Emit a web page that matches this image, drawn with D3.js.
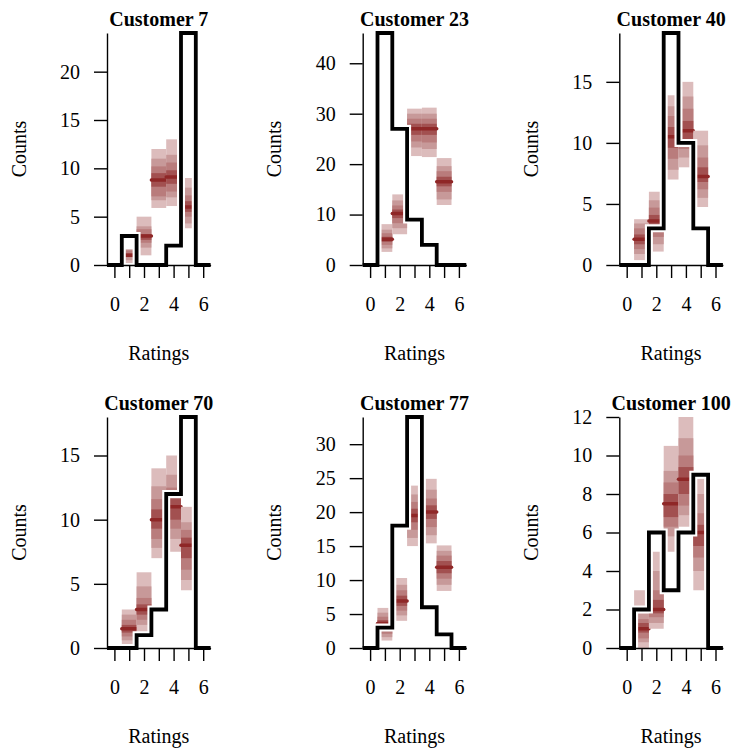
<!DOCTYPE html>
<html>
<head>
<meta charset="utf-8">
<script src="https://cdn.jsdelivr.net/npm/d3@7"></script>
<style>
  body { margin: 0; background: #fff; }
  svg text { font-family: "Liberation Serif", Times, "Nimbus Roman", "DejaVu Serif", serif; }
</style>
</head>
<body>
<div id="canvas"></div>
<script>
// ratings on the x axis, observed counts padded with zeros at 0 and 6
var ratings = [0, 1, 2, 3, 4, 5, 6]
var xTicks = [0, 1, 2, 3, 4, 5, 6]
var xLabels = ['0', '', '2', '', '4', '', '6']
var predRatings = [1, 2, 3, 4, 5]
var customers = ['Customer 7', 'Customer 23', 'Customer 40', 'Customer 70', 'Customer 77', 'Customer 100']

var obs7 = [0, 3, 0, 0, 2, 24, 0]
var obs23 = [0, 46, 27, 9, 4, 0, 0]
var obs40 = [0, 0, 3, 19, 10, 3, 0]
var obs70 = [0, 0, 1, 3, 12, 18, 0]
var obs77 = [0, 3, 18, 34, 6, 2, 0]
var obs100 = [0, 2, 6, 3, 6, 9, 0]

// predictive quantiles 10%..90% for ratings 1..5
var q7 = [
  [0.2, 0.5, 0.8, 1, 1, 1.2, 1.5, 1.6, 1.6],
  [1, 1.8, 2.3, 2.6, 3, 3.2, 3.7, 4, 5],
  [5.9, 6.7, 7.1, 8.1, 8.8, 9.5, 10.2, 11, 12],
  [6.1, 7, 7.6, 8.4, 9.1, 9.8, 10.6, 11.4, 13],
  [3.8, 4.3, 5, 5.5, 6, 6.6, 7.2, 8, 9]
]
var q23 = [
  [2.6, 3.3, 4, 4.6, 5.1, 5.6, 6.3, 7, 8.1],
  [6.1, 7.3, 8.3, 9.3, 10.2, 11, 11.8, 12.8, 14],
  [21.6, 23.3, 24.5, 25.8, 27, 28, 29, 30, 31],
  [21.4, 23, 24.3, 25.8, 27, 28, 29, 30, 31.2],
  [11.9, 13, 14.5, 15.6, 16.5, 17.5, 18.6, 19.6, 21.2]
]
var q40 = [
  [0.4, 0.9, 1.3, 1.7, 2.1, 2.5, 3, 3.4, 3.75],
  [1.1, 1.7, 2.3, 3, 3.6, 4.1, 4.7, 5.3, 6],
  [7, 7.8, 8.7, 9.6, 10.5, 11.3, 12.2, 13, 13.9],
  [8, 8.8, 9.5, 10.2, 11, 11.8, 12.8, 13.8, 15],
  [4.75, 5.5, 6.2, 6.8, 7.25, 8, 8.8, 9.8, 11]
]
var q70 = [
  [0.3, 0.6, 0.9, 1.2, 1.5, 1.8, 2.2, 2.6, 3],
  [1.25, 1.8, 2.2, 2.6, 3, 3.4, 3.9, 4.8, 5.9],
  [7, 7.8, 8.5, 9.3, 10, 10.8, 11.6, 12.6, 14],
  [7.5, 8.5, 9.3, 10, 11, 11.6, 12.5, 13.5, 15],
  [4.5, 5.3, 6.1, 7, 8, 8.6, 9.2, 9.8, 11]
]
var q77 = [
  [1.1, 1.6, 2.1, 2.8, 3.6, 4.1, 4.6, 5.2, 5.9],
  [4, 4.8, 5.5, 6.2, 6.9, 7.7, 8.5, 9.3, 10.3],
  [15, 16.2, 17.4, 18.5, 19.5, 20.5, 21.5, 22.6, 23.9],
  [15.4, 16.6, 17.8, 19, 20, 21, 22, 23.3, 24.9],
  [8.4, 9.3, 10.2, 11, 11.9, 12.8, 13.6, 14.3, 15.1]
]
var q100 = [
  [0, 0.3, 0.5, 0.8, 1, 1.3, 1.5, 1.8, 3],
  [1, 1.3, 1.6, 1.8, 2, 2.5, 3, 4, 5],
  [5, 5.8, 6.3, 6.8, 7.5, 8, 8.6, 9.2, 10.5],
  [6.3, 6.9, 7.4, 8, 8.76, 9.4, 10, 10.9, 12],
  [3, 4, 4.7, 5.3, 6, 6.4, 7, 8, 8.8]
]

var observed = [obs7, obs23, obs40, obs70, obs77, obs100]
var predicted = [q7, q23, q40, q70, q77, q100]

var bandColors = ['#DCBCBC', '#C79999', '#B97C7C', '#A25050']
var medianColor = '#8F2727'

var colLeft = [107, 362.7, 619.3]
var rowTop = [33, 417]
var rowHeight = [232, 231]
var plotW = 103.6
var serif = '"Liberation Serif", Times, "Nimbus Roman", "DejaVu Serif", serif'

var svg = d3.select('#canvas').append('svg')
  .attr('width', 735)
  .attr('height', 751)

customers.forEach(function(name, i) {
  var L = colLeft[i % 3]
  var T = rowTop[Math.floor(i / 3)]
  var H = rowHeight[Math.floor(i / 3)]
  var obs = observed[i]
  var q = predicted[i]

  var ymax = d3.max([d3.max(obs), d3.max(q, function(d) { return d[8] })])
  var x = d3.scaleLinear().domain([-0.5, 6.5]).range([0, plotW])
  var y = d3.scaleLinear().domain([0, ymax]).range([H, 0])

  var g = svg.append('g').attr('transform', 'translate(' + L + ',' + T + ')')

  // nested predictive intervals
  predRatings.forEach(function(r, j) {
    var qs = q[j]
    for (var k = 0; k < 4; k++) {
      g.append('rect')
        .attr('x', x(r - 0.5))
        .attr('width', x(r + 0.5) - x(r - 0.5))
        .attr('y', y(qs[8 - k]))
        .attr('height', y(qs[k]) - y(qs[8 - k]))
        .attr('fill', bandColors[k])
    }
    g.append('line')
      .attr('x1', x(r - 0.5)).attr('x2', x(r + 0.5))
      .attr('y1', y(qs[4])).attr('y2', y(qs[4]))
      .attr('stroke', medianColor)
      .attr('stroke-width', 3.5)
      .attr('stroke-linecap', 'round')
  })

  // observed counts as a step line with a white halo
  var pts = []
  ratings.forEach(function(r) {
    pts.push([r - 0.5, obs[r]])
    pts.push([r + 0.5, obs[r]])
  })
  var step = d3.line().x(function(d) { return x(d[0]) }).y(function(d) { return y(d[1]) })
  g.append('path').attr('d', step(pts))
    .attr('fill', 'none').attr('stroke', 'white').attr('stroke-width', 8)
  g.append('path').attr('d', step(pts))
    .attr('fill', 'none').attr('stroke', 'black').attr('stroke-width', 3.8)

  // axes
  var yAxis = d3.axisLeft(y).ticks(5).tickSize(13).tickSizeOuter(0).tickPadding(14)
  var ya = g.append('g').call(yAxis).attr('font-family', serif).attr('font-size', 20)
  ya.select('.domain').attr('stroke-width', 1.4)
  ya.selectAll('.tick line').attr('stroke-width', 1.4)

  var xAxis = d3.axisBottom(x).tickValues(xTicks).tickSize(13).tickSizeOuter(0).tickPadding(19)
    .tickFormat(function(d, k) { return xLabels[k] })
  var xa = g.append('g').attr('transform', 'translate(0,' + H + ')').call(xAxis)
    .attr('font-family', serif).attr('font-size', 20)
  xa.select('.domain').attr('stroke-width', 1.4)
  xa.selectAll('.tick line').attr('stroke-width', 1.4)

  // titles and labels
  g.append('text')
    .attr('x', plotW / 2).attr('y', -7)
    .attr('text-anchor', 'middle')
    .attr('font-family', serif)
    .attr('font-size', 20).attr('font-weight', 'bold')
    .text(name)
  g.append('text')
    .attr('x', plotW / 2).attr('y', H + 95)
    .attr('text-anchor', 'middle')
    .attr('font-family', serif)
    .attr('font-size', 20)
    .text('Ratings')
  g.append('text')
    .attr('transform', 'translate(-81.5,' + (H / 2) + ') rotate(-90)')
    .attr('text-anchor', 'middle')
    .attr('font-family', serif)
    .attr('font-size', 20)
    .text('Counts')
})
</script>
</body>
</html>
